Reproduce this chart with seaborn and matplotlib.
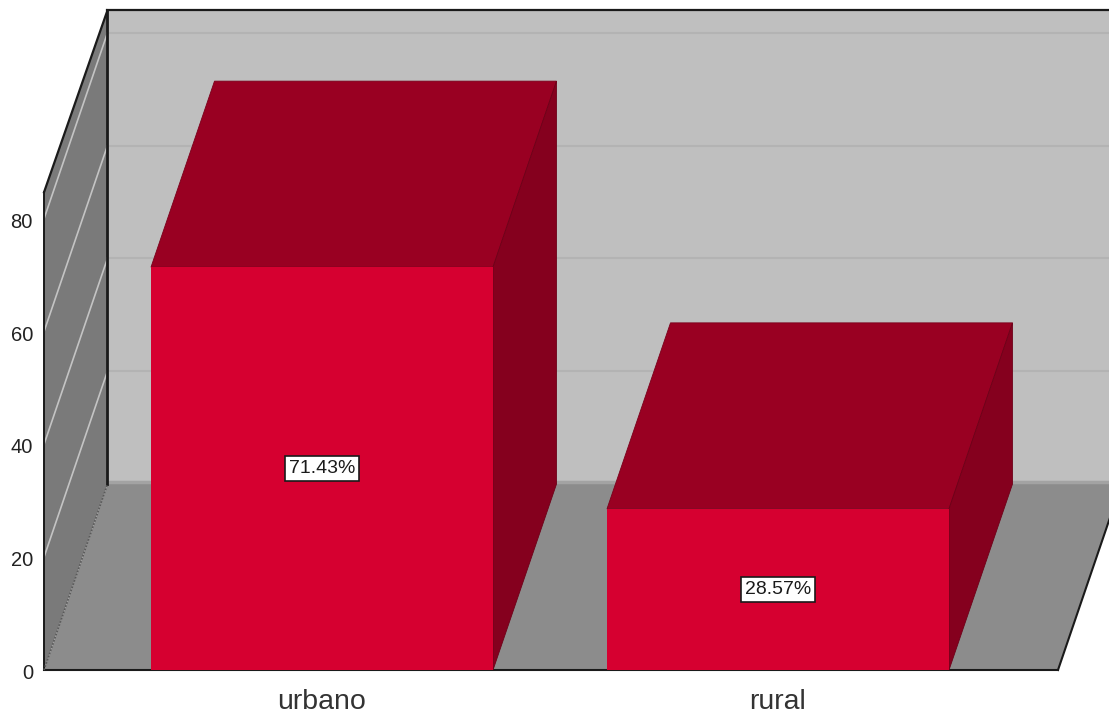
import matplotlib
matplotlib.use("Agg")
import matplotlib.pyplot as plt
import seaborn as sns
import pandas as pd
from matplotlib.patches import Polygon
from matplotlib.transforms import ScaledTranslation

categories = ["urbano", "rural"]
values = [71.43, 28.57]
labels = ["71.43%", "28.57%"]
y_ticks = [0, 20, 40, 60, 80]

W, H = 1109, 715
PX_L, PX_R, PX_B = 44, 1058, 670
PX_PER_UNIT = 5.64
PX_PER_CAT = 456.0
Y_TOP = 84.0
Y_FRONT = 84.7
DX = 63.5 / PX_PER_CAT      # depth, category units
DY = 186.0 / PX_PER_UNIT    # depth, value units
BAR_W = 342.0 / PX_PER_CAT
X0 = -(322.0 - PX_L) / PX_PER_CAT
X1 = X0 + (PX_R - PX_L) / PX_PER_CAT

sns.set_theme(style="white")
plt.rcParams["font.family"] = ["Liberation Sans", "DejaVu Sans"]

fig = plt.figure(figsize=(W / 100, H / 100), dpi=100)
ax = fig.add_axes([PX_L / W, 1 - PX_B / H, (PX_R - PX_L) / W, Y_TOP * PX_PER_UNIT / H])
ax.patch.set_alpha(0)

df = pd.DataFrame({"cat": categories, "val": values})
sns.barplot(data=df, x="cat", y="val", order=categories, color="#d60030", saturation=1,
            width=BAR_W, linewidth=0, ax=ax, zorder=6)
ax.set_xlim(X0, X1)
ax.set_ylim(0, Y_TOP)


def poly(pts, fc, ec="none", lw=0, z=1, **kw):
    ax.add_patch(Polygon(pts, closed=True, fc=fc, ec=ec, lw=lw, zorder=z, clip_on=False, **kw))


# back wall, floor, side wall
poly([(X0 + DX, DY), (X1 + DX + 0.2, DY), (X1 + DX + 0.2, Y_TOP + DY), (X0 + DX, Y_TOP + DY)], "#bfbfbf", z=1)
poly([(X0, 0), (X1, 0), (X1 + DX, DY), (X0 + DX, DY)], "#8c8c8c", z=2)
poly([(X0, 0), (X0 + DX, DY), (X0 + DX, Y_TOP + DY), (X0, Y_FRONT)], "#7a7a7a", z=2)

# floor/wall seam band
ax.plot([X0 + DX, X1 + DX + 0.2], [DY + 0.3, DY + 0.3], color="#a3a3a3", lw=2.5, zorder=2.5,
        clip_on=False, solid_capstyle="butt")

# gridlines on both walls
for t in y_ticks[1:]:
    ax.plot([X0 + DX, X1 + DX + 0.2], [t + DY, t + DY], color="#b3b3b3", lw=1.5, zorder=2.5, clip_on=False)
    ax.plot([X0, X0 + DX], [t, t + DY], color="#c4c4c4", lw=1.2, zorder=3, clip_on=False)

# frame lines
k = dict(color="#1a1a1a", zorder=4, clip_on=False, solid_capstyle="projecting")
ax.plot([X0 + DX, X0 + DX], [DY, Y_TOP + DY], lw=2.0, **k)
ax.plot([X0 + DX, X1 + DX + 0.2], [Y_TOP + DY, Y_TOP + DY], lw=1.6, **k)
ax.plot([X0, X0 + DX], [Y_FRONT, Y_TOP + DY], lw=1.6, **k)
ax.plot([X0, X0], [0, Y_FRONT], lw=1.4, **k)
ax.plot([X0, X1], [0, 0], lw=1.5, **k)
ax.plot([X1, X1 + DX * 0.82], [0, DY * 0.82], lw=1.5, **k)
ax.plot([X0, X0 + DX], [0, DY], color="#5a5a5a", lw=1.2, ls=(0, (1, 1)), zorder=4, clip_on=False)

# 3D sides of the bars, from the library's own bar rectangles
for bar, txt in zip(ax.patches, labels):
    x, w, h = bar.get_x(), bar.get_width(), bar.get_height()
    poly([(x, h), (x + w, h), (x + w + DX, h + DY), (x + DX, h + DY)], "#990022", ec="#7a001b", lw=0.6, z=5)
    poly([(x + w, 0), (x + w + DX, DY), (x + w + DX, h + DY), (x + w, h)], "#85001e", ec="#6e0018", lw=0.6, z=5)
    ax.text(x + w / 2, h / 2, txt, ha="center", va="center", fontsize=14, color="#1a1a1a", zorder=8,
            bbox=dict(boxstyle="square,pad=0.22", fc="white", ec="#1a1a1a", lw=1.2))

for s in ax.spines.values():
    s.set_visible(False)
ax.set_xlabel("")
ax.set_ylabel("")
ax.set_yticks(y_ticks)
ax.tick_params(axis="y", length=0, pad=8, labelsize=14.5, labelcolor="#222222")
ax.tick_params(axis="x", length=0, pad=14, labelsize=20.5, labelcolor="#333333")
down = ScaledTranslation(0, -1.5 / 100, fig.dpi_scale_trans)
for lab in ax.get_yticklabels():
    lab.set_transform(lab.get_transform() + down)

fig.savefig("out.png", dpi=100, facecolor="white")
